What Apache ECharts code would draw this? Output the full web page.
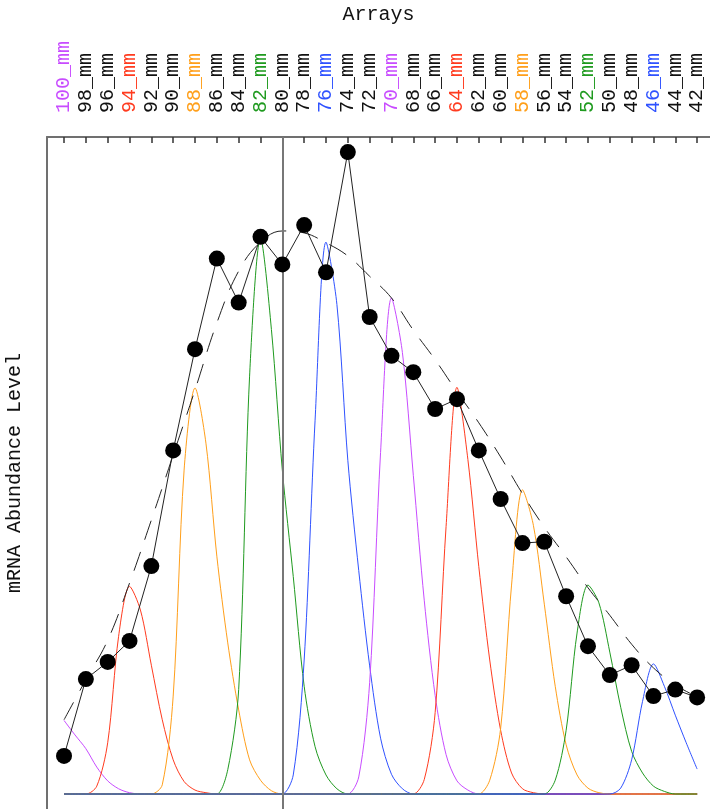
<!DOCTYPE html>
<html>
<head>
<meta charset="utf-8">
<script src="https://cdn.jsdelivr.net/npm/echarts@6/dist/echarts.min.js"></script>
<style>
  html, body { margin: 0; padding: 0; background: #fff; }
  #chart { width: 710px; height: 809px; }
</style>
</head>
<body>
<div id="chart"></div>
<script>
// Array size classes along the top axis
const categories = ['100_mm','98_mm','96_mm','94_mm','92_mm','90_mm','88_mm','86_mm','84_mm','82_mm',
  '80_mm','78_mm','76_mm','74_mm','72_mm','70_mm','68_mm','66_mm','64_mm','62_mm',
  '60_mm','58_mm','56_mm','54_mm','52_mm','50_mm','48_mm','46_mm','44_mm','42_mm'];

// Measured abundance per array (black dots)
const abundance = [0.58, 1.75, 2.01, 2.33, 3.47, 5.23, 6.77, 8.15, 7.48, 8.48,
  8.06, 8.66, 7.94, 9.77, 7.26, 6.67, 6.42, 5.86, 6.01, 5.23,
  4.49, 3.82, 3.84, 3.01, 2.25, 1.81, 1.96, 1.49, 1.59, 1.47];

// Smoothed envelope (dashed)
const envelope = [1.13, 1.74, 2.34, 3.21, 4.17, 5.16, 6.15, 7.17, 7.96, 8.40,
  8.57, 8.54, 8.39, 8.19, 7.88, 7.55, 7.06, 6.61, 6.12, 5.65,
  5.13, 4.57, 4.06, 3.61, 3.14, 2.72, 2.28, 1.92, 1.66, 1.48];

// Component profiles, sampled every half array step from the listed start index
const peakNames = ['100_mm','94_mm','88_mm','82_mm','76_mm','70_mm','64_mm','58_mm','52_mm','46_mm'];
const peakStart = [0, 1, 4, 7, 10, 13, 16, 19, 22, 25];
const peak100 = [1.12, 0.90, 0.69, 0.41, 0.20, 0.08, 0.02, 0];
const peak94 = [0, 0.12, 0.78, 2.40, 3.16, 2.80, 1.96, 1.13, 0.52, 0.19, 0.06, 0.02, 0];
const peak88 = [0, 0.14, 1.49, 4.93, 6.18, 5.34, 3.62, 2.30, 1.28, 0.52, 0.21, 0.05, 0];
const peak82 = [0, 0.37, 1.59, 6.36, 8.46, 7.07, 4.93, 3.31, 1.64, 0.72, 0.29, 0.08, 0];
const peak76 = [0, 0.29, 2.04, 5.69, 8.40, 7.45, 5.08, 3.40, 1.95, 0.85, 0.30, 0.08, 0];
const peak70 = [0, 0.26, 1.70, 5.20, 7.55, 6.72, 4.85, 2.95, 1.50, 0.60, 0.20, 0.06, 0];
const peak64 = [0, 0.22, 1.24, 4.07, 6.19, 5.09, 3.46, 2.04, 0.97, 0.32, 0.08, 0.02, 0];
const peak58 = [0, 0.21, 1.00, 3.18, 4.63, 4.09, 2.89, 1.64, 0.75, 0.29, 0.09, 0.02, 0];
const peak52 = [0, 0.21, 0.97, 2.45, 3.18, 2.91, 2.16, 1.32, 0.65, 0.32, 0.12, 0.04, 0];
const peak46 = [0, 0.09, 0.52, 1.41, 1.98, 1.64, 1.20, 0.78, 0.38];
const peakValues = [peak100, peak94, peak88, peak82, peak76, peak70, peak64, peak58, peak52, peak46];

// Reference array marked by the vertical rule
const markedArray = '80_mm';

// ---- styling ----
const MONO = '"Liberation Mono", "DejaVu Sans Mono", monospace';
const palette = {
  magenta: '#c84cff', red: '#ff3b1f', orange: '#ff9f1a', green: '#1f9a1f', blue: '#2f52ff'
};
const peakColors = [palette.magenta, palette.red, palette.orange, palette.green, palette.blue,
  palette.magenta, palette.red, palette.orange, palette.green, palette.blue];

const lastIndex = categories.length - 1;
const tickValues = categories.map((_, i) => i);

function labelColor(val) {
  const name = categories[Math.round(Number(val))];
  const k = peakNames.indexOf(name);
  return k >= 0 ? peakColors[k] : '#111';
}

// each profile sits on the zero baseline across the full array range
const peakSeries = peakValues.map((vals, k) => {
  const start = peakStart[k];
  const pts = [];
  if (start > 0) {
    pts.push([0, 0]);
    pts.push([start - 0.5, 0]);
  }
  vals.forEach((v, j) => pts.push([start + j * 0.5, v]));
  const endX = start + (vals.length - 1) * 0.5;
  if (endX < lastIndex) {
    pts.push([endX + 0.5, 0]);
    pts.push([lastIndex, 0]);
  }
  return {
    name: peakNames[k],
    type: 'line',
    data: pts,
    smooth: 0.3,
    showSymbol: false,
    silent: true,
    lineStyle: { color: peakColors[k], width: 1 },
    z: 2
  };
});

const chart = echarts.init(document.getElementById('chart'), null, { renderer: 'canvas' });

chart.setOption({
  animation: false,
  backgroundColor: '#fff',
  grid: { left: 47, right: 0, top: 137, bottom: 0, containLabel: false, outerBoundsMode: 'none' },
  xAxis: {
    type: 'value',
    position: 'top',
    min: -0.78,
    max: 29.59,
    name: 'Arrays',
    nameLocation: 'middle',
    nameGap: 112,
    nameTextStyle: { fontFamily: MONO, fontSize: 20, color: '#111' },
    axisLine: { show: true, onZero: false, lineStyle: { color: '#707070', width: 2 } },
    axisTick: {
      show: true, inside: true, length: 6,
      customValues: tickValues,
      lineStyle: { color: '#333', width: 1.5 }
    },
    axisLabel: {
      show: true,
      customValues: tickValues,
      rotate: -90,
      margin: 24,
      fontFamily: MONO,
      fontSize: 20,
      color: labelColor,
      formatter: (v) => categories[Math.round(v)]
    },
    splitLine: { show: false }
  },
  yAxis: {
    type: 'value',
    min: -0.228,
    max: 10,
    name: 'mRNA Abundance Level',
    nameLocation: 'middle',
    nameGap: 22,
    nameTextStyle: { fontFamily: MONO, fontSize: 20, color: '#111' },
    axisLine: { show: true, onZero: false, lineStyle: { color: '#707070', width: 2 } },
    axisTick: { show: false },
    axisLabel: { show: false },
    splitLine: { show: false }
  },
  series: [
    ...peakSeries,
    {
      name: 'envelope',
      type: 'line',
      data: envelope.map((v, i) => [i, v]),
      smooth: 0.4,
      showSymbol: false,
      silent: true,
      lineStyle: { color: '#222', width: 1, type: [20, 13] },
      z: 3
    },
    {
      name: 'abundance',
      type: 'line',
      data: abundance.map((v, i) => [i, v]),
      symbol: 'circle',
      symbolSize: 16,
      itemStyle: { color: '#000' },
      lineStyle: { color: '#222', width: 1 },
      z: 5,
      markLine: {
        silent: true,
        symbol: ['none', 'none'],
        label: { show: false },
        lineStyle: { color: '#777', width: 2, type: 'solid' },
        data: [{ xAxis: categories.indexOf(markedArray) }]
      }
    }
  ]
});
</script>
</body>
</html>
